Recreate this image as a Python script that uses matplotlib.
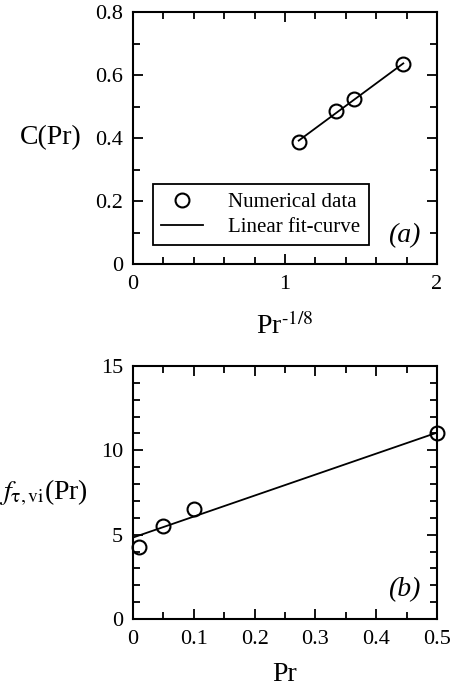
import numpy as np
import matplotlib
matplotlib.use("Agg")
from matplotlib import pyplot as plt
from matplotlib.ticker import MultipleLocator

plt.rcParams['font.family'] = ['Liberation Serif', 'DejaVu Serif']
plt.rcParams['mathtext.fontset'] = 'stix'

# (a) C(Pr) against Pr^-1/8
pr_inv8 = [1.09, 1.333, 1.454, 1.778]
c_pr = [0.387, 0.485, 0.523, 0.634]

# (b) f_tau,vi(Pr) against Pr
pr = [0.01, 0.05, 0.1, 0.5]
f_tau = [4.24, 5.52, 6.51, 11.05]
fit_b = [4.83, 11.05]   # linear fit at Pr = 0 and Pr = 0.5
fit_b_x = [0.0, 0.5]

fig = plt.figure(figsize=(4.5, 6.89), dpi=100)
ax1 = fig.add_axes([0.2956, 0.6168, 0.6756, 0.3657])
ax2 = fig.add_axes([0.2956, 0.1016, 0.6756, 0.3672])

mk = dict(marker='o', ms=10, mfc='none', mec='black', mew=1.5, ls='none')

# fit line through the points of (a)
k, b = np.polyfit(pr_inv8, c_pr, 1)
xa = np.array([pr_inv8[0], pr_inv8[-1]])
ln, = ax1.plot(xa, k * xa + b, color='black', lw=1.3)
pts, = ax1.plot(pr_inv8, c_pr, **mk)
ax1.set_xlim(0, 2)
ax1.set_ylim(0, 0.8)
ax1.xaxis.set_major_locator(MultipleLocator(1))
ax1.xaxis.set_minor_locator(MultipleLocator(0.2))
ax1.yaxis.set_major_locator(MultipleLocator(0.2))
ax1.yaxis.set_minor_locator(MultipleLocator(0.1))
ax1.set_yticks([0, 0.2, 0.4, 0.6, 0.8], ['0', '0.2', '0.4', '0.6', '0.8'])
ax1.set_xlabel(r'Pr$^{\text{-1/8}}$', fontsize=20, labelpad=13)
ax1.set_ylabel('C(Pr)', fontsize=20, rotation=0, ha='center', va='center')
ax1.yaxis.set_label_coords(-0.27, 0.5)
leg = ax1.legend([pts, ln], ['Numerical data', 'Linear fit-curve'],
                 loc='lower left', bbox_to_anchor=(0.066, 0.075),
                 fontsize=15, fancybox=False, edgecolor='black',
                 framealpha=1, borderpad=0.4, handlelength=2.0,
                 handletextpad=1.2, labelspacing=0.25, borderaxespad=0)
leg.get_frame().set_linewidth(1.3)
ax1.text(0.945, 0.065, '(a)', transform=ax1.transAxes, fontsize=20,
         style='italic', ha='right', va='bottom')

ax2.plot(fit_b_x, fit_b, color='black', lw=1.3)
ax2.plot(pr, f_tau, clip_on=False, **mk)
ax2.set_xlim(0, 0.5)
ax2.set_ylim(0, 15)
ax2.xaxis.set_major_locator(MultipleLocator(0.1))
ax2.xaxis.set_minor_locator(MultipleLocator(0.05))
ax2.yaxis.set_major_locator(MultipleLocator(5))
ax2.yaxis.set_minor_locator(MultipleLocator(1))
ax2.set_xticks([0, 0.1, 0.2, 0.3, 0.4, 0.5],
               ['0', '0.1', '0.2', '0.3', '0.4', '0.5'])
ax2.set_xlabel('Pr', fontsize=20, labelpad=9)
ax2.set_ylabel(r'$f_{\mathrm{\tau,vi}}$(Pr)', fontsize=20, rotation=0,
               ha='center', va='center')
ax2.yaxis.set_label_coords(-0.295, 0.5)
ax2.text(0.945, 0.065, '(b)', transform=ax2.transAxes, fontsize=20,
         style='italic', ha='right', va='bottom')

for ax in (ax1, ax2):
    for s in ax.spines.values():
        s.set_linewidth(1.5)
    ax.tick_params(which='both', direction='in', top=True, right=True,
                   labelsize=16, width=1.3)
    ax.tick_params(which='major', length=7)
    ax.tick_params(which='minor', length=5)
    ax.tick_params(axis='x', pad=8)
    ax.tick_params(axis='y', pad=7)

fig.savefig('out.png', dpi=100)
